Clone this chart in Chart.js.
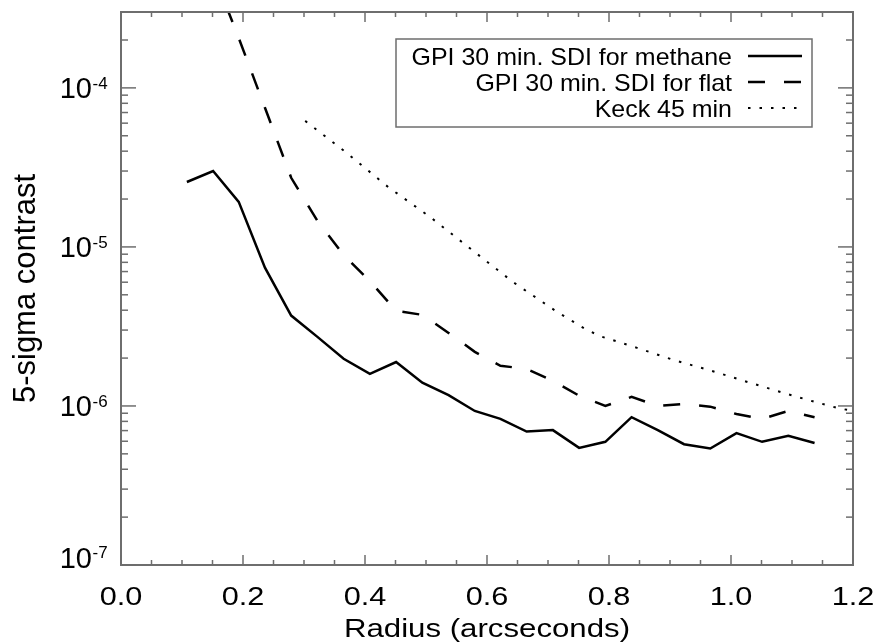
<!DOCTYPE html>
<html>
<head>
<meta charset="utf-8">
<script src="https://cdn.jsdelivr.net/npm/chart.js@4"></script>
<style>
  body { margin: 0; background: #fff; }
  #wrap { width: 878px; height: 644px; }
</style>
</head>
<body>
<div id="wrap"><canvas id="contrastChart" width="878" height="644"></canvas></div>
<script>
// values
const radius = [0.108, 0.151, 0.193, 0.236, 0.279, 0.322, 0.365, 0.408, 0.451, 0.494, 0.537, 0.580, 0.622,
                0.665, 0.708, 0.751, 0.794, 0.837, 0.880, 0.923, 0.966, 1.009, 1.051, 1.094, 1.137];
const methane = [2.56e-5, 3.0e-5, 1.92e-5, 7.4e-6, 3.7e-6, 2.72e-6, 1.98e-6, 1.59e-6, 1.89e-6, 1.40e-6, 1.17e-6, 9.3e-7, 8.3e-7,
                 6.9e-7, 7.05e-7, 5.45e-7, 5.95e-7, 8.5e-7, 7.05e-7, 5.75e-7, 5.4e-7, 6.75e-7, 5.95e-7, 6.5e-7, 5.85e-7];
const flatRadius = radius.slice(1);
const flat = [5.3e-4, 2.06e-4, 7.5e-5, 2.72e-5, 1.46e-5, 8.9e-6, 6.1e-6, 3.96e-6, 3.74e-6, 2.88e-6, 2.19e-6, 1.79e-6,
              1.71e-6, 1.44e-6, 1.16e-6, 1.0e-6, 1.14e-6, 1.0e-6, 1.03e-6, 9.9e-7, 8.9e-7, 8.3e-7, 9.3e-7, 8.5e-7];
const keckRadius = [0.302, 0.370, 0.438, 0.507, 0.575, 0.643, 0.715, 0.761, 0.785, 0.846, 0.905, 0.969, 1.031, 1.092, 1.134, 1.175, 1.2];
const keck = [6.2e-5, 3.9e-5, 2.38e-5, 1.54e-5, 9.6e-6, 6.0e-6, 3.9e-6, 3.05e-6, 2.75e-6, 2.32e-6, 1.95e-6, 1.66e-6,
              1.40e-6, 1.19e-6, 1.07e-6, 9.7e-7, 9.3e-7];

const seriesLabels = ['GPI 30 min. SDI for methane', 'GPI 30 min. SDI for flat', 'Keck 45 min'];
const xTickLabels = ['0.0', '0.2', '0.4', '0.6', '0.8', '1.0', '1.2'];
const yTickExponents = [-7, -6, -5, -4];
const xTitle = 'Radius (arcseconds)';
const yTitle = '5-sigma contrast';

const FONT = '"Liberation Sans", Arial, Helvetica, sans-serif';
const AXIS = '#6e6e6e';

function pts(xs, ys) { return xs.map((x, i) => ({ x: x, y: ys[i] })); }

function text(ctx, str, x, y, size, align, sx) {
    ctx.save();
    ctx.translate(x, y);
    ctx.scale(sx || 1, 1);
    ctx.font = size + 'px ' + FONT;
    ctx.textAlign = align;
    ctx.textBaseline = 'alphabetic';
    ctx.fillStyle = '#000';
    ctx.fillText(str, 0, 0);
    ctx.restore();
}

function seg(ctx, x1, y1, x2, y2) {
    ctx.beginPath();
    ctx.moveTo(x1, y1);
    ctx.lineTo(x2, y2);
    ctx.stroke();
}

// IDL-style frame, inward ticks, labels and legend
const idlAxes = {
    id: 'idlAxes',
    afterDraw(chart) {
        const ctx = chart.ctx;
        const a = chart.chartArea;
        const xs = chart.scales.x, ys = chart.scales.y;

        ctx.save();
        ctx.strokeStyle = AXIS;
        ctx.lineWidth = 2;
        ctx.strokeRect(a.left, a.top, a.right - a.left, a.bottom - a.top);

        ctx.lineWidth = 1.5;
        for (let i = 0; i <= 24; i++) {
            const v = i * 0.05;
            const px = xs.getPixelForValue(v);
            const len = i % 4 === 0 ? 10 : 5;
            seg(ctx, px, a.bottom, px, a.bottom - len);
            seg(ctx, px, a.top, px, a.top + len);
        }
        yTickExponents.forEach(e => {
            for (let m = 1; m <= 9; m++) {
                const v = m * Math.pow(10, e);
                if (v > ys.max * 1.0001) break;
                const py = ys.getPixelForValue(v);
                const len = m === 1 ? 15 : 7;
                seg(ctx, a.left, py, a.left + len, py);
                seg(ctx, a.right, py, a.right - len, py);
            }
        });
        ctx.restore();

        // x tick labels
        xTickLabels.forEach(t => {
            const px = xs.getPixelForValue(parseFloat(t));
            text(ctx, t, px, a.bottom + 40, 26, 'center', 1.18);
        });
        // y tick labels 10^n
        yTickExponents.forEach(e => {
            let py = ys.getPixelForValue(Math.pow(10, e));
            py = Math.min(py, a.bottom - 8);
            text(ctx, '10', 92, py + 10.5, 29, 'right', 1);
            text(ctx, '-' + (-e), 92.5, py + 1, 17, 'left', 1);
        });

        // axis titles
        text(ctx, xTitle, (a.left + a.right) / 2, 637, 26, 'center', 1.2);
        ctx.save();
        ctx.translate(35, (a.top + a.bottom) / 2);
        ctx.rotate(-Math.PI / 2);
        text(ctx, yTitle, 0, 0, 31, 'center', 1);
        ctx.restore();

        // legend box
        ctx.save();
        ctx.strokeStyle = AXIS;
        ctx.lineWidth = 1.5;
        ctx.strokeRect(396, 39, 416, 88);
        ctx.restore();
        chart.data.datasets.forEach((ds, i) => {
            const base = 65 + i * 26;
            text(ctx, ds.label, 732, base, 24, 'right', 1.04);
            ctx.save();
            ctx.strokeStyle = ds.borderColor;
            ctx.lineWidth = ds.borderWidth;
            ctx.setLineDash(ds.borderDash || []);
            seg(ctx, 748, base - 9, 802, base - 9);
            ctx.restore();
        });
    }
};

const ctx = document.getElementById('contrastChart').getContext('2d');
const chart = new Chart(ctx, {
    type: 'line',
    data: {
        datasets: [
            { label: seriesLabels[0], data: pts(radius, methane), borderColor: '#000', borderWidth: 2.5, pointRadius: 0, tension: 0 },
            { label: seriesLabels[1], data: pts(flatRadius, flat), borderColor: '#000', borderWidth: 2.5, borderDash: [17, 19], pointRadius: 0, tension: 0 },
            { label: seriesLabels[2], data: pts(keckRadius, keck), borderColor: '#000', borderWidth: 2, borderDash: [2.5, 9], pointRadius: 0, tension: 0 }
        ]
    },
    options: {
        responsive: false,
        animation: false,
        devicePixelRatio: 1,
        layout: { padding: { top: 12, right: 25, left: 0, bottom: 0 } },
        scales: {
            x: {
                type: 'linear', min: 0, max: 1.2,
                grid: { display: false }, border: { display: false }, ticks: { display: false },
                afterFit: s => { s.height = 79; }
            },
            y: {
                type: 'logarithmic', min: 1e-7, max: 3e-4,
                grid: { display: false }, border: { display: false }, ticks: { display: false },
                afterFit: s => { s.width = 121; }
            }
        },
        plugins: { legend: { display: false }, tooltip: { enabled: false } }
    },
    plugins: [idlAxes]
});
</script>
</body>
</html>
